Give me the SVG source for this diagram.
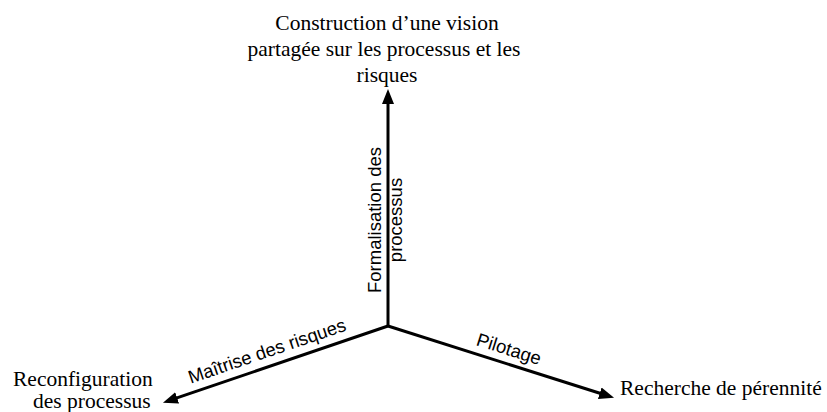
<svg xmlns="http://www.w3.org/2000/svg" width="827" height="412" viewBox="0 0 827 412">
<style>
.axis{stroke:#000;stroke-width:3;fill:none;marker-end:url(#ah)}
</style>
<defs>
<marker id="ah" markerUnits="userSpaceOnUse" markerWidth="17" markerHeight="14" refX="1" refY="7" orient="auto">
<path d="M0,1 L15,7 L0,13 z" fill="#000"/>
</marker>
</defs>
<rect width="827" height="412" fill="#fff"/>
<g id="connectors">
<line class="axis" x1="388" y1="326" x2="388" y2="103"/>
<line class="axis" x1="388" y1="326" x2="176.2" y2="398.2"/>
<line class="axis" x1="388" y1="326" x2="600.7" y2="393.5"/>
<g font-family="Liberation Sans, sans-serif" font-size="18.5" fill="#000">
<text text-anchor="middle" transform="translate(381,220) rotate(-90)">Formalisation des</text>
<text text-anchor="middle" transform="translate(402,220) rotate(-90)">processus</text>
<text text-anchor="middle" transform="translate(269,357) rotate(-18.8)">Maîtrise des risques</text>
<text text-anchor="middle" transform="translate(507,355) rotate(17.6)">Pilotage</text>
</g>
</g>
<g id="node-top" font-family="Liberation Serif, serif" font-size="21.5" fill="#000">
<text text-anchor="middle" x="387" y="30">Construction d’une vision</text>
<text text-anchor="middle" x="384" y="56">partagée sur les processus et les</text>
<text text-anchor="middle" x="387" y="82">risques</text>
</g>
<g id="node-left" font-family="Liberation Serif, serif" font-size="21.5" fill="#000">
<text x="13" y="386">Reconfiguration</text>
<text x="33" y="408">des processus</text>
</g>
<g id="node-right" font-family="Liberation Serif, serif" font-size="21.5" fill="#000">
<text x="620" y="395">Recherche de pérennité</text>
</g>
</svg>
